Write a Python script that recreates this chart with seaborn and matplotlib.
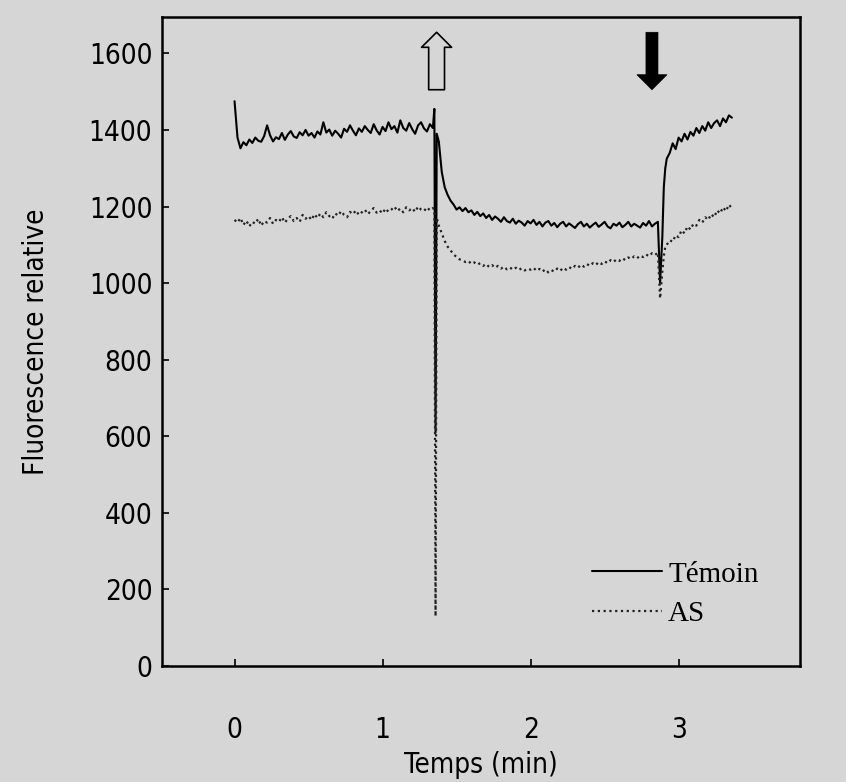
import numpy as np
import pandas as pd
import matplotlib
matplotlib.use('Agg')
import matplotlib.pyplot as plt
import seaborn as sns

# temps (min): three regular stretches plus the two injection events
t_seg1 = np.round(np.arange(0, 1.341, 0.02), 3)
t_evt1 = [1.350, 1.358, 1.366]
t_seg2 = np.round(np.arange(1.38, 2.861, 0.02), 3)
t_evt2 = [2.875, 2.89, 2.90, 2.91]
t_seg3 = np.round(np.arange(2.92, 3.361, 0.02), 3)

temoin_seg1 = [1475, 1380, 1352, 1368, 1360, 1375, 1366, 1380, 1372, 1369,
               1384, 1412, 1386, 1370, 1381, 1376, 1392, 1374, 1388, 1397,
               1383, 1379, 1394, 1386, 1400, 1385, 1392, 1380, 1396, 1388,
               1420, 1393, 1401, 1385, 1398, 1390, 1380, 1403, 1395, 1412,
               1398, 1386, 1404, 1395, 1410, 1400, 1392, 1415, 1399, 1388,
               1408, 1397, 1420, 1402, 1410, 1393, 1425, 1405, 1398, 1418,
               1402, 1390, 1412, 1420, 1404, 1396, 1415, 1405]
temoin_evt1 = [1455, 610, 1390]
temoin_seg2 = [1370, 1290, 1250, 1230, 1215, 1205, 1192, 1198, 1188, 1196,
               1185, 1190, 1178, 1186, 1175, 1182, 1170, 1178, 1165, 1174,
               1168, 1160, 1172, 1162, 1158, 1168, 1155, 1163, 1158, 1150,
               1162, 1156, 1165, 1152, 1160, 1148, 1158, 1162, 1150, 1157,
               1146, 1155, 1160, 1148, 1156, 1150, 1144, 1154, 1160, 1148,
               1155, 1145, 1152, 1158, 1147, 1153, 1160, 1148, 1143, 1155,
               1150, 1158, 1146, 1152, 1160, 1148, 1155, 1150, 1145, 1157,
               1150, 1162, 1148, 1155, 1160]
temoin_evt2 = [1000, 1120, 1250, 1300]
temoin_seg3 = [1325, 1340, 1365, 1350, 1380, 1370, 1390, 1375, 1395, 1385,
               1405, 1392, 1410, 1398, 1420, 1405, 1418, 1425, 1410, 1430,
               1420, 1438, 1432]

as_seg1 = [1165, 1158, 1170, 1152, 1163, 1148, 1160, 1155, 1168, 1150,
           1162, 1158, 1170, 1155, 1165, 1160, 1172, 1158, 1168, 1175,
           1162, 1170, 1160, 1178, 1168, 1175, 1165, 1180, 1170, 1182,
           1172, 1185, 1175, 1168, 1182, 1176, 1188, 1178, 1172, 1186,
           1180, 1190, 1178, 1185, 1192, 1180, 1188, 1196, 1184, 1190,
           1182, 1195, 1186, 1192, 1200, 1188, 1195, 1185, 1198, 1190,
           1196, 1186, 1200, 1192, 1188, 1198, 1190, 1196]
as_evt1 = [1192, 130, 1170]
as_seg2 = [1150, 1130, 1110, 1095, 1085, 1075, 1068, 1062, 1060, 1055,
           1058, 1050, 1054, 1048, 1052, 1045, 1050, 1042, 1047, 1040,
           1045, 1038, 1043, 1036, 1041, 1035, 1040, 1034, 1039, 1033,
           1038, 1035, 1040, 1032, 1037, 1030, 1036, 1028, 1034, 1030,
           1038, 1032, 1040, 1035, 1042, 1037, 1045, 1040, 1048, 1043,
           1050, 1045, 1052, 1047, 1055, 1050, 1057, 1052, 1060, 1055,
           1062, 1058, 1065, 1060, 1067, 1063, 1070, 1065, 1072, 1068,
           1075, 1070, 1078, 1073, 1080]
as_evt2 = [960, 1030, 1070, 1095]
as_seg3 = [1100, 1112, 1108, 1125, 1120, 1138, 1130, 1148, 1140, 1155,
           1150, 1165, 1158, 1172, 1165, 1180, 1172, 1190, 1182, 1198,
           1188, 1205, 1195]

y_ticks = [0, 200, 400, 600, 800, 1000, 1200, 1400, 1600]
x_ticks = [0, 1, 2, 3]

temps = np.concatenate([t_seg1, t_evt1, t_seg2, t_evt2, t_seg3])
df = pd.DataFrame({
    'temps': temps,
    'Témoin': temoin_seg1 + temoin_evt1 + temoin_seg2 + temoin_evt2 + temoin_seg3,
    'AS': as_seg1 + as_evt1 + as_seg2 + as_evt2 + as_seg3,
})

sns.set_style('ticks')
bg = '#d6d6d6'
plt.rcParams['font.family'] = ['DejaVu Sans']
plt.rcParams['font.stretch'] = 'condensed'
for k in ['text.color', 'axes.labelcolor', 'xtick.color', 'ytick.color']:
    plt.rcParams[k] = 'black'

fig = plt.figure(figsize=(8.46, 7.82), dpi=100, facecolor=bg)
ax = fig.add_axes([0.1915, 0.1483, 0.7541, 0.8300])
ax.set_facecolor(bg)

sns.lineplot(data=df, x='temps', y='Témoin', ax=ax, color='black', lw=1.5,
             sort=False, estimator=None, label='Témoin')
sns.lineplot(data=df, x='temps', y='AS', ax=ax, color='#222222', lw=1.6,
             linestyle=(0, (1, 1.6)), sort=False, estimator=None, label='AS')

ax.set_xlim(-0.49, 3.82)
ax.set_ylim(0, 1695)
ax.set_xticks(x_ticks)
ax.set_yticks(y_ticks)
ax.tick_params(direction='in', length=5, width=1.2, labelsize=20, color='black',
               labelcolor='black')
ax.tick_params(axis='x', pad=36)
ax.tick_params(axis='y', pad=7)
for s in ax.spines.values():
    s.set_color('black')
    s.set_linewidth(1.8)

ax.set_xlabel('Temps (min)', fontsize=20, labelpad=5)
ax.set_ylabel('Fluorescence relative', fontsize=20, labelpad=28)

# injection arrows
ax.annotate('', xy=(1.365, 1655), xytext=(1.365, 1505),
            arrowprops=dict(arrowstyle='simple,head_length=0.9,head_width=1.8,tail_width=0.95',
                            mutation_scale=12, fc='none', ec='black', lw=1.2,
                            shrinkA=0, shrinkB=0))
ax.annotate('', xy=(2.82, 1505), xytext=(2.82, 1655),
            arrowprops=dict(arrowstyle='simple,head_length=0.9,head_width=1.8,tail_width=0.72',
                            mutation_scale=12, fc='black', ec='black', lw=0.5,
                            shrinkA=0, shrinkB=0))

leg = ax.legend(loc='lower right', bbox_to_anchor=(0.935, 0.06), frameon=False,
                prop={'family': 'Liberation Serif', 'size': 21},
                handlelength=2.4, handletextpad=0.2, labelspacing=0.45,
                borderpad=0, borderaxespad=0)

fig.savefig('out.png', dpi=100, facecolor=bg)
